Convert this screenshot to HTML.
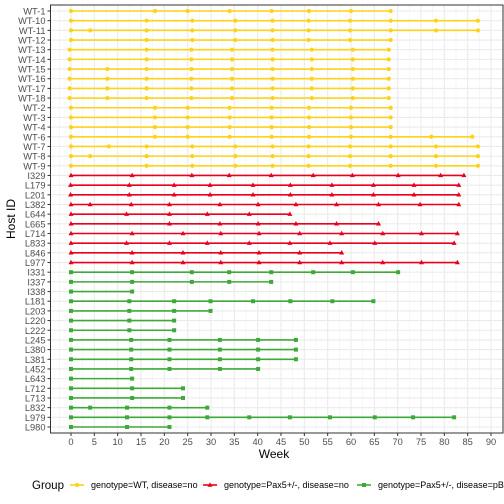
<!DOCTYPE html>
<html><head><meta charset="utf-8"><style>
body{margin:0;background:#fff}
svg{display:block;font-family:"Liberation Sans",sans-serif}
</style></head><body>
<svg id="c" width="504" height="504"></svg>
<script>
const hosts=["WT-1","WT-10","WT-11","WT-12","WT-13","WT-14","WT-15","WT-16","WT-17","WT-18","WT-2","WT-3","WT-4","WT-6","WT-7","WT-8","WT-9","I329","L179","L201","L382","L644","L665","L714","L833","L846","L977","I331","I337","I338","L181","L203","L220","L222","L245","L380","L381","L452","L643","L712","L713","L832","L979","L980"];
const groups=[0,0,0,0,0,0,0,0,0,0,0,0,0,0,0,0,0,1,1,1,1,1,1,1,1,1,1,2,2,2,2,2,2,2,2,2,2,2,2,2,2,2,2,2];
const weeks=[
[0,18,25,34,43,51,60,68.5],
[0,16.2,26,35.2,43.2,50.9,59.8,68.5,78.2,87.2],
[0,4.1,16.2,26,35.2,43.2,50.9,59.8,68.5,78.2,87.2],
[0,16.2,26,35.2,43.2,50.9,59.8,68.5],
[-0.3,16.2,25.8,34.5,43.2,51.6,60.4,68.1],
[-0.3,16.2,25.8,34.5,43.2,51.6,60.4,68.1],
[-0.3,7.8,16.2,25.8,34.5,43.2,51.6,60.4,68.1],
[-0.3,7.8,16.2,25.8,34.5,43.2,51.6,60.4,68.1],
[-0.3,7.8,16.2,25.8,34.5,43.2,51.6,60.4,68.1],
[-0.3,7.8,16.2,25.8,34.5,43.2,51.6,60.4,68.1],
[0,18,25,34,43,51,60,68.5],
[0,18,25,34,43,51,60,68.5],
[0,18,25,34,43,51,60,68.5],
[0,18,25,34,43,51,60,68.5,77.2,86],
[0,8.1,16.2,26,35.2,43.2,50.9,59.8,68.5,78.2,87.2],
[0,4.1,16.2,26,35.2,43.2,50.9,59.8,68.5,78.2,87.2],
[0,16.2,26,35.2,43.2,50.9,59.8,68.5,78.2,87.2],
[0,13.1,25.9,33.9,42.9,51.9,60.3,70.1,79.2,84.2],
[-0.1,12.5,22.1,29.8,39,47,55.9,64.8,73.5,83.1],
[-0.1,12.5,22.1,29.8,39,47,55.9,64.8,73.5,83.1],
[0,4.1,12.9,21.1,31.9,40.1,48.2,56.9,65.9,74.8,83.1],
[0,11.9,21.1,29.2,38.2,46.9],
[0,21.1,31.9,40.1,48.2,56.9,65.9],
[0,13.1,24,32.1,40.3,49,58,66.8,75.1,82.8],
[0,11.9,21.1,29.2,38.2,46.9,55.5,65.1,82.1],
[0,13.1,24,32.1,40.3,49,58],
[0,13.1,24,32.1,40.3,49,58,66.8,75.1,82.8],
[0,13.1,25.9,33.9,42.9,51.9,60.4,70.1],
[0,13.1,25.9,33.9,42.9],
[0,13.1],
[0,12.5,22.1,29.9,39,47,56,64.8],
[0,12.5,22.1,29.9],
[0,12.5,22.1],
[0,12.5,22.1],
[0,12.9,21.1,31.9,40.1,48.2],
[0,12.9,21.1,31.9,40.1,48.2],
[0,12.9,21.1,31.9,40.1,48.2],
[0,12.9,21.1,31.9,40.1],
[0,13.1],
[0,13.1,24],
[0,13.1,24],
[0,4.1,12,21.1,29.2],
[0,12,21.1,29.2,38.2,46.9,55.5,65.1,73.3,82.1],
[0,12,21.1]
];
const xTicks=[0,5,10,15,20,25,30,35,40,45,50,55,60,65,70,75,80,85,90];
const groupLabels=["genotype=WT, disease=no","genotype=Pax5+/-, disease=no","genotype=Pax5+/-, disease=pB-ALL"];
const colors=["#FFD21A","#E8001C","#3FA83A"];

const NS="http://www.w3.org/2000/svg";
const svg=document.getElementById('c');
function mk(t,a,p){const e=document.createElementNS(NS,t);for(const k in a)e.setAttribute(k,a[k]);(p||svg).appendChild(e);return e;}
const L=50.5,R=503,T=5,B=433;
const x=w=>71+w*(420/90);
const y=i=>11+i*(416/43);

const grid=mk('g',{});
for(let w=-2.5;w<=92.5;w+=5){const px=x(w);if(px>L&&px<R)mk('line',{x1:px,x2:px,y1:T,y2:B,stroke:'#f2f2f2','stroke-width':0.6},grid);}
xTicks.forEach(w=>mk('line',{x1:x(w),x2:x(w),y1:T,y2:B,stroke:'#ebebeb','stroke-width':1.1},grid));
hosts.forEach((h,i)=>mk('line',{x1:L,x2:R,y1:y(i),y2:y(i),stroke:'#ebebeb','stroke-width':1.1},grid));

const series=mk('g',{});
hosts.forEach((h,i)=>{
  const g=mk('g',{},series);
  
  
  const ws=weeks[i],c=colors[groups[i]],yy=y(i);
  mk('line',{x1:x(ws[0]),x2:x(ws[ws.length-1]),y1:yy,y2:yy,stroke:c,'stroke-width':1.6},g);
  ws.forEach(w=>{
    const px=x(w);let m;
    if(groups[i]===0)m=mk('circle',{cx:px,cy:yy,r:2.1,fill:c},g);
    else if(groups[i]===1)m=mk('polygon',{points:`${px},${yy-2.8} ${px-2.5},${yy+1.7} ${px+2.5},${yy+1.7}`,fill:c},g);
    else m=mk('rect',{x:px-2,y:yy-2,width:4,height:4,fill:c},g);
    
    
  });
});
const border=mk('rect',{x:L,y:T,width:R-L,height:B-T,fill:'none',stroke:'#333','stroke-width':1});



const ya=mk('g',{});
hosts.forEach((h,i)=>{
  mk('line',{x1:L-3,x2:L,y1:y(i),y2:y(i),stroke:'#333','stroke-width':1},ya);
  const t=mk('text',{x:L-5,y:y(i)+3.5,'text-anchor':'end','font-size':9.3,fill:'#4d4d4d'},ya);t.textContent=h;
  
  
});
const xa=mk('g',{});
xTicks.forEach(w=>{
  mk('line',{x1:x(w),x2:x(w),y1:B,y2:B+3,stroke:'#333','stroke-width':1},xa);
  const t=mk('text',{x:x(w),y:B+12,'text-anchor':'middle','font-size':9.3,fill:'#4d4d4d'},xa);t.textContent=w;
  
  
});
const xt=mk('text',{x:274,y:458,'text-anchor':'middle','font-size':12,fill:'#000'});xt.textContent='Week';


const yt=mk('text',{x:15,y:219,'text-anchor':'middle','font-size':12,fill:'#000',transform:'rotate(-90 15 219)'});yt.textContent='Host ID';



const lg=mk('g',{});
const lt=mk('text',{x:32,y:489,'font-size':11.5,fill:'#000'},lg);lt.textContent='Group';
const keyX=[70,203,357];
groupLabels.forEach((s,k)=>{
  const e=mk('g',{},lg);
  
  
  const kx=keyX[k],ky=485;
  mk('line',{x1:kx,x2:kx+14,y1:ky,y2:ky,stroke:colors[k],'stroke-width':1.6},e);
  const cx=kx+7;
  if(k===0)mk('circle',{cx:cx,cy:ky,r:2.1,fill:colors[k]},e);
  else if(k===1)mk('polygon',{points:`${cx},${ky-2.8} ${cx-2.5},${ky+1.7} ${cx+2.5},${ky+1.7}`,fill:colors[k]},e);
  else mk('rect',{x:cx-2,y:ky-2,width:4,height:4,fill:colors[k]},e);
  const t=mk('text',{x:kx+21,y:ky+3.2,'font-size':9,fill:'#000'},e);t.textContent=s;
});
</script>
</body></html>
